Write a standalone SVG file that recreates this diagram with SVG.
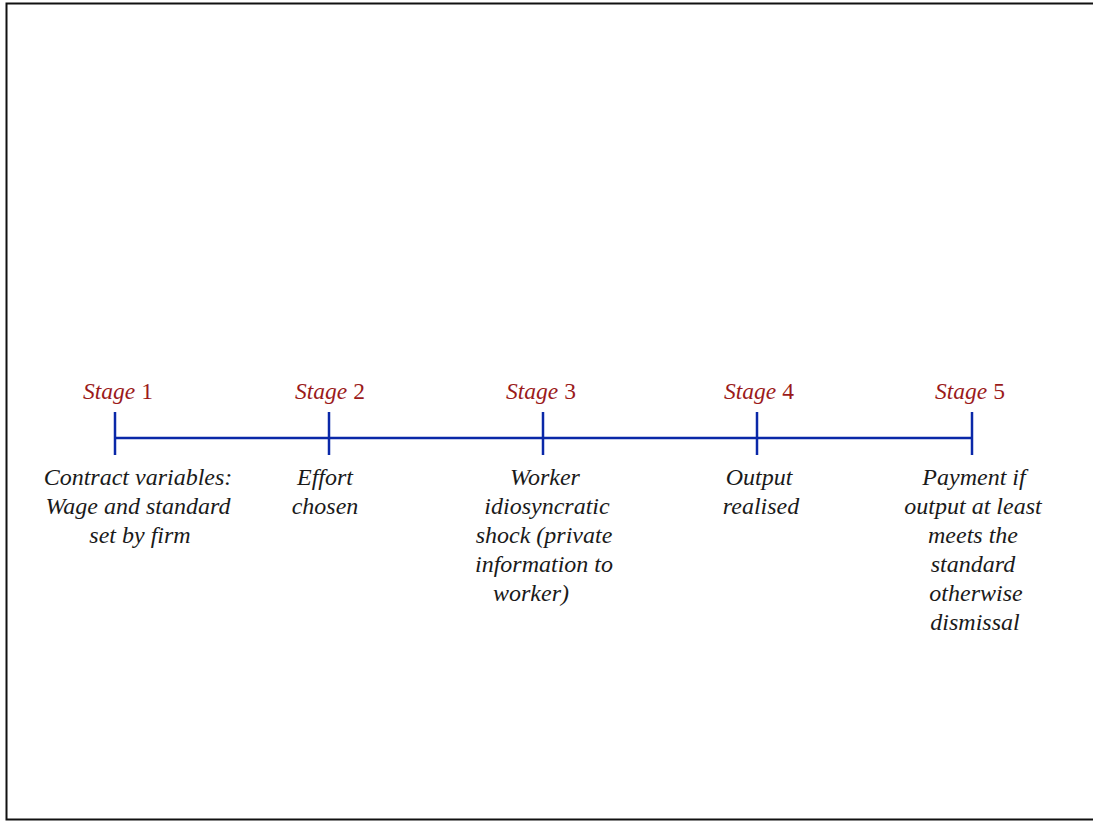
<svg xmlns="http://www.w3.org/2000/svg" width="1093" height="821" viewBox="0 0 1093 821">
<style>
.lbl{font-family:"Liberation Serif","Times New Roman",serif;font-size:23.5px;fill:#9b1a1a;text-anchor:middle}
.lbl .it{font-style:italic}
.desc{font-family:"Liberation Serif","Times New Roman",serif;font-size:24px;font-style:italic;fill:#1a1a1a;text-anchor:middle}
.ax{stroke:#0a28a8;stroke-width:2.5;fill:none}
</style>
<rect x="0" y="0" width="1093" height="821" fill="#fff"/>
<rect x="6.5" y="3.5" width="1100" height="816" fill="none" stroke="#111" stroke-width="2"/>
<g id="connectors">
<line class="ax" x1="115" y1="438" x2="972" y2="438"/>
</g>
<g id="stage1">
<line class="ax" x1="115" y1="412" x2="115" y2="455"/>
<text class="lbl" x="118" y="399"><tspan class="it">Stage</tspan> 1</text>
<text class="desc" x="138" y="485">Contract variables:</text>
<text class="desc" x="138" y="514">Wage and standard</text>
<text class="desc" x="140" y="543">set by firm</text>
</g>
<g id="stage2">
<line class="ax" x1="329" y1="412" x2="329" y2="455"/>
<text class="lbl" x="330" y="399"><tspan class="it">Stage</tspan> 2</text>
<text class="desc" x="325" y="485">Effort</text>
<text class="desc" x="325" y="514">chosen</text>
</g>
<g id="stage3">
<line class="ax" x1="543" y1="412" x2="543" y2="455"/>
<text class="lbl" x="541" y="399"><tspan class="it">Stage</tspan> 3</text>
<text class="desc" x="545" y="485">Worker</text>
<text class="desc" x="547" y="514">idiosyncratic</text>
<text class="desc" x="544" y="543">shock (private</text>
<text class="desc" x="544" y="572">information to</text>
<text class="desc" x="531" y="601">worker)</text>
</g>
<g id="stage4">
<line class="ax" x1="757" y1="412" x2="757" y2="455"/>
<text class="lbl" x="759" y="399"><tspan class="it">Stage</tspan> 4</text>
<text class="desc" x="759" y="485">Output</text>
<text class="desc" x="761" y="514">realised</text>
</g>
<g id="stage5">
<line class="ax" x1="972" y1="412" x2="972" y2="455"/>
<text class="lbl" x="970" y="399"><tspan class="it">Stage</tspan> 5</text>
<text class="desc" x="974" y="485">Payment if</text>
<text class="desc" x="973" y="514">output at least</text>
<text class="desc" x="973" y="543">meets the</text>
<text class="desc" x="973" y="572">standard</text>
<text class="desc" x="976" y="601">otherwise</text>
<text class="desc" x="975" y="630">dismissal</text>
</g>
</svg>
